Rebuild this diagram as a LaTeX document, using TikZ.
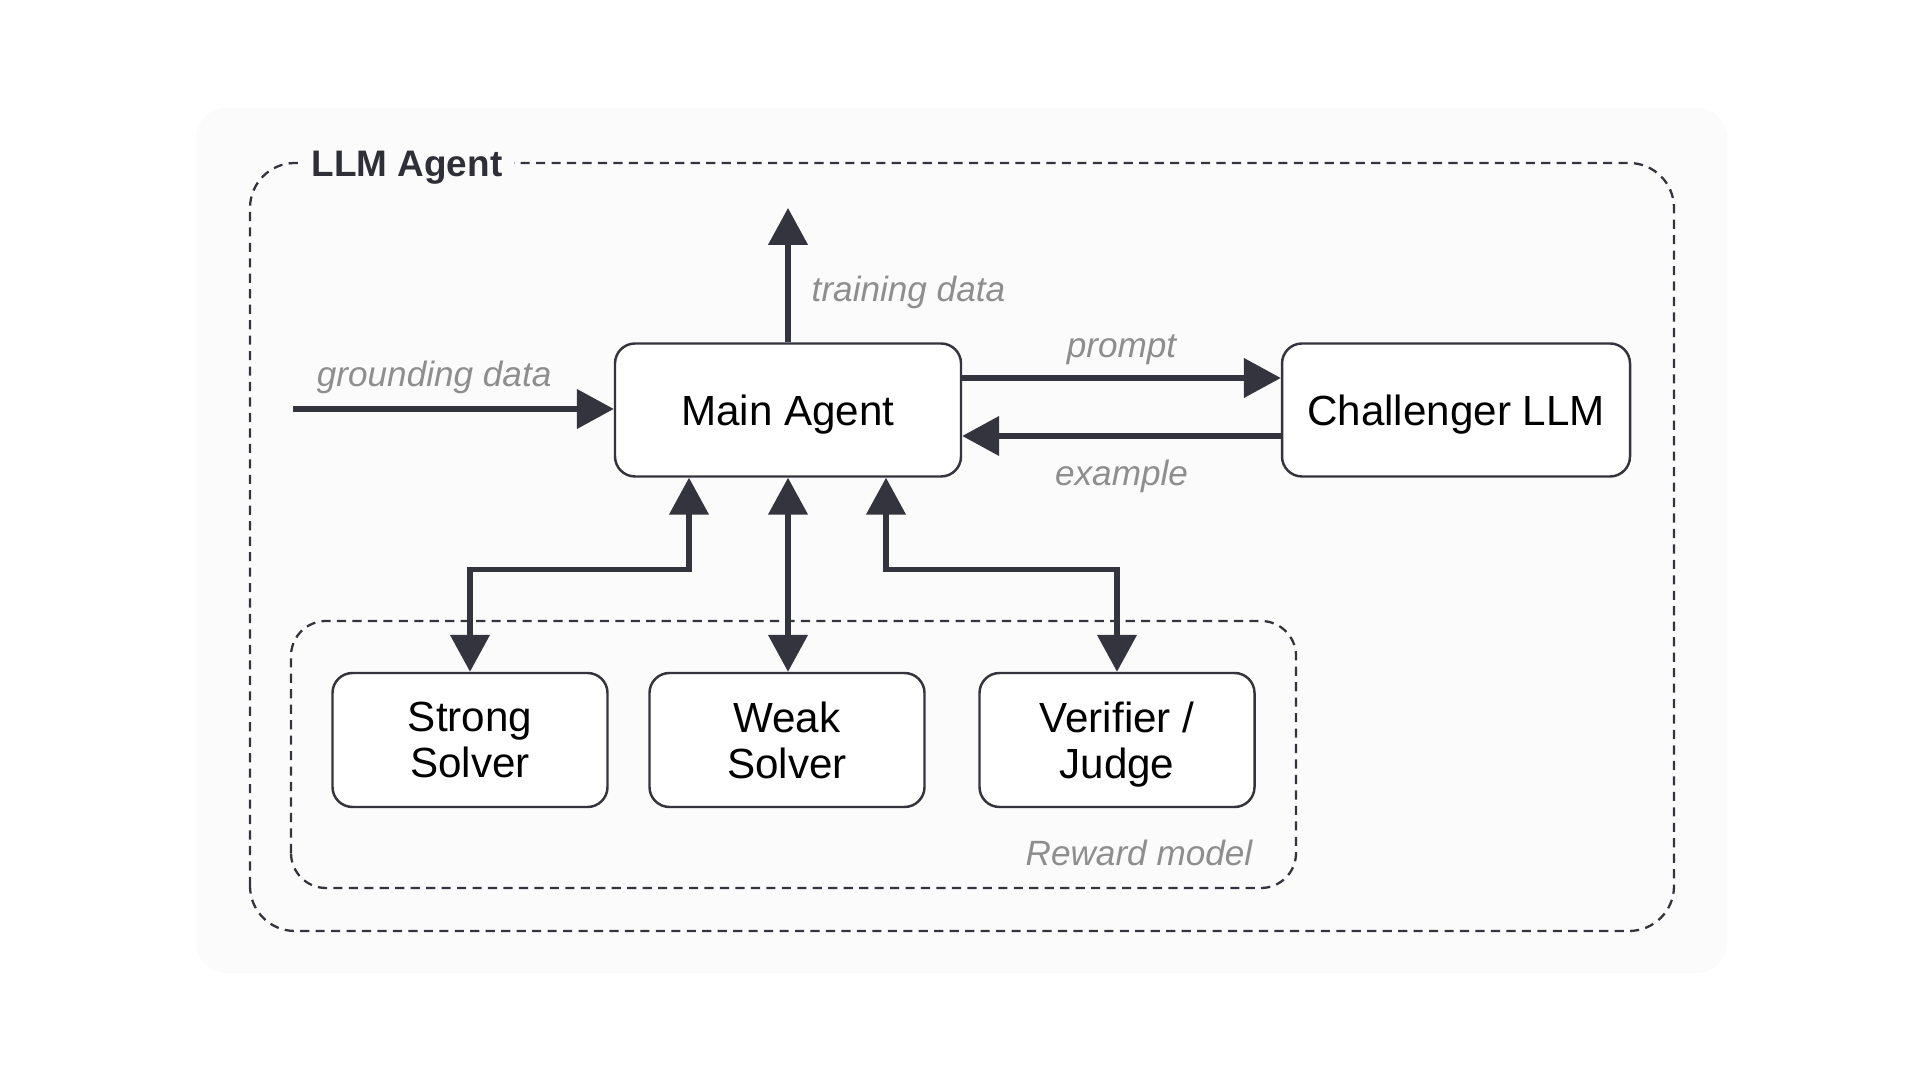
\documentclass[tikz,border=0pt]{standalone}
\usepackage{fontspec}
\setmainfont{Liberation Sans}
\usepackage{tikz}
\usetikzlibrary{positioning,arrows.meta,calc}
\definecolor{colTrazo}{HTML}{34343E}
\definecolor{colPanel}{HTML}{FBFBFB}
\definecolor{colEtiqueta}{HTML}{8E8E8E}

\begin{document}
\begin{tikzpicture}[
        >=Triangle,
        box/.style={draw=colTrazo, rounded corners=0.2cm, line width=0.7pt, align=center, fill=white, font=\fontsize{12}{13}\selectfont, text depth=0pt, minimum height=1.33cm, minimum width=3.46cm},
        solver/.style={box, minimum width=2.75cm, minimum height=1.34cm},
        arr/.style={-{Triangle[length=10.5pt, width=11pt]}, line width=1.5pt, draw=colTrazo},
        dblarr/.style={{Triangle[length=10.5pt, width=11pt]}-{Triangle[length=10.5pt, width=11pt]}, line width=1.5pt, draw=colTrazo},
        frame/.style={draw=colTrazo, line width=0.65pt, dash pattern=on 2.6pt off 1.8pt},
        lbl/.style={font=\fontsize{10}{12}\selectfont\itshape, text=colEtiqueta, inner sep=2pt}
    ]
        \useasboundingbox (0,0) rectangle (19.2,10.8);
        % Panel de fondo
        \fill[colPanel, rounded corners=0.3cm] (1.96,1.07) rectangle (17.27,9.72);

        % Marcos discontinuos (agente y modelo de recompensa)
        \draw[frame, rounded corners=0.45cm] (2.50,1.49) rectangle (16.74,9.17);
        \node[font=\fontsize{10.5}{12}\selectfont\bfseries, text=colTrazo!90!black, fill=colPanel, inner xsep=0.12cm, inner ysep=2pt, anchor=base west] (llmlbl) at (2.99,9.03) {LLM Agent};
        \draw[frame, rounded corners=0.35cm] (2.91,1.92) rectangle (12.96,4.59);
        \node[lbl, anchor=east] (rewlbl) at (12.60,2.27) {Reward model};

        % Nodos principales
        \node[box] (agent) at (7.88,6.70) {Main Agent};
        \node[box, minimum width=3.48cm] (chall) at (14.56,6.70) {Challenger LLM};

        % Solvers y juez
        \node[solver] (strongs) at (4.70,3.40) {Strong\\Solver};
        \node[solver] (weaks) at (7.87,3.40) {Weak\\Solver};
        \node[solver] (judge) at (11.17,3.40) {Verifier /\\Judge};

        % Entradas y salidas del agente
        \coordinate (gin) at (2.93,6.71);
        \coordinate (tout) at (7.88,8.72);
        \draw[arr] (gin) -- node[lbl, pos=0.44, above=1.5pt] {grounding data} (gin -| agent.west);
        \draw[arr] (agent.north) -- node[lbl, pos=0.37, right=4pt] {training data} (tout);

        % Ida y vuelta con el retador
        \draw[arr] ([yshift=0.32cm]agent.east) -- node[lbl, above=1pt] {prompt} ([yshift=0.32cm]chall.west);
        \draw[arr] ([yshift=-0.26cm]chall.west) -- node[lbl, below=4pt] {example} ([yshift=-0.26cm]agent.east);

        % Conexiones con el modelo de recompensa
        \draw[dblarr] ([xshift=-0.99cm]agent.south) -- ++(0,-0.92) -| (strongs.north);
        \draw[dblarr] (agent.south) -- (agent.south |- weaks.north);
        \draw[dblarr] ([xshift=0.98cm]agent.south) -- ++(0,-0.92) -| (judge.north);
    \end{tikzpicture}
\end{document}
